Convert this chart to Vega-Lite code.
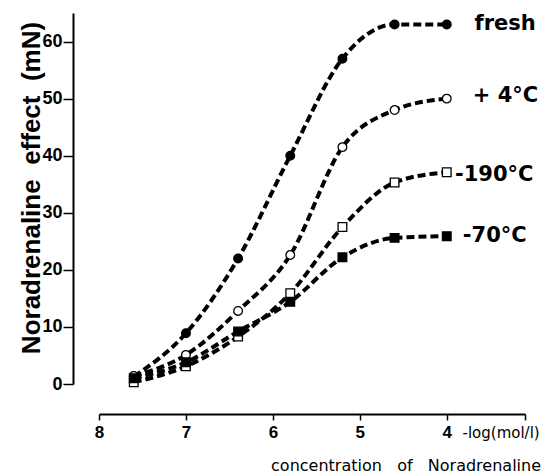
{
  "$schema": "https://vega.github.io/schema/vega-lite/v6.json",
  "width": 426,
  "height": 371,
  "autosize": {"type": "none"},
  "padding": {"left": 99, "top": 13, "right": 17, "bottom": 92},
  "background": "white",
  "config": {"view": {"stroke": null}, "font": "Liberation Sans"},
  "title": {
    "text": "concentration\u00a0\u00a0\u00a0of\u00a0\u00a0\u00a0Noradrenaline",
    "orient": "bottom",
    "anchor": "end",
    "frame": "group",
    "dx": 16,
    "offset": 18,
    "font": "DejaVu Sans",
    "fontSize": 16,
    "fontWeight": "normal",
    "color": "black"
  },
  "datasets": {
    "curves": [
      {"series": "fresh", "x": 7.6, "y": 1.3},
      {"series": "fresh", "x": 7.0, "y": 8.9},
      {"series": "fresh", "x": 6.4, "y": 22.0},
      {"series": "fresh", "x": 5.8, "y": 40.0},
      {"series": "fresh", "x": 5.2, "y": 57.0},
      {"series": "fresh", "x": 4.6, "y": 63.0},
      {"series": "fresh", "x": 4.0, "y": 63.0},
      {"series": "+4", "x": 7.6, "y": 1.4},
      {"series": "+4", "x": 7.0, "y": 5.1},
      {"series": "+4", "x": 6.4, "y": 12.8},
      {"series": "+4", "x": 5.8, "y": 22.6},
      {"series": "+4", "x": 5.2, "y": 41.5},
      {"series": "+4", "x": 4.6, "y": 48.0},
      {"series": "+4", "x": 4.0, "y": 50.0},
      {"series": "-190", "x": 7.6, "y": 0.3},
      {"series": "-190", "x": 7.0, "y": 3.1},
      {"series": "-190", "x": 6.4, "y": 8.3},
      {"series": "-190", "x": 5.8, "y": 15.9},
      {"series": "-190", "x": 5.2, "y": 27.5},
      {"series": "-190", "x": 4.6, "y": 35.3},
      {"series": "-190", "x": 4.0, "y": 37.1},
      {"series": "-70", "x": 7.6, "y": 1.0},
      {"series": "-70", "x": 7.0, "y": 3.8},
      {"series": "-70", "x": 6.4, "y": 9.2},
      {"series": "-70", "x": 5.8, "y": 14.4},
      {"series": "-70", "x": 5.2, "y": 22.2},
      {"series": "-70", "x": 4.6, "y": 25.6},
      {"series": "-70", "x": 4.0, "y": 25.9}
    ],
    "labels": [
      {"label": "fresh", "x": 3.68, "y": 63.0},
      {"label": "+ 4°C", "x": 3.70, "y": 50.4},
      {"label": "-190°C", "x": 3.905, "y": 36.6},
      {"label": "-70°C", "x": 3.815, "y": 25.9}
    ]
  },
  "layer": [
    {
      "data": {"name": "curves"},
      "mark": {"type": "line", "interpolate": "monotone", "strokeDash": [8, 4], "strokeWidth": 4, "color": "black"},
      "encoding": {
        "x": {
          "field": "x",
          "type": "quantitative",
          "scale": {"domain": [3.1, 8], "reverse": true, "nice": false, "zero": false},
          "axis": {
            "values": [8, 7, 6, 5, 4, 3.1],
            "labelExpr": "datum.value < 3.5 ? '' : format(datum.value, 'd')",
            "offset": 30,
            "grid": false,
            "tickSize": 6,
            "tickWidth": 1.5,
            "tickColor": "black",
            "domainColor": "black",
            "domainWidth": 2,
            "labelFont": "Liberation Sans",
            "labelFontSize": 17,
            "labelFontWeight": "bold",
            "labelColor": "black",
            "labelPadding": 4,
            "labelFlush": false,
            "labelOverlap": false,
            "title": "-log(mol/l)",
            "titleFont": "DejaVu Sans",
            "titleFontSize": 15,
            "titleFontWeight": "normal",
            "titleColor": "black",
            "titleX": 363,
            "titleY": 18,
            "titleAlign": "left",
            "titleBaseline": "middle"
          }
        },
        "y": {
          "field": "y",
          "type": "quantitative",
          "scale": {"domain": [0, 65], "nice": false, "zero": false},
          "axis": {
            "values": [0, 10, 20, 30, 40, 50, 60],
            "offset": 26,
            "grid": false,
            "tickSize": 10,
            "tickWidth": 1.5,
            "tickColor": "black",
            "domainColor": "black",
            "domainWidth": 2,
            "labelFont": "Liberation Sans",
            "labelFontSize": 18,
            "labelFontWeight": "bold",
            "labelColor": "black",
            "labelPadding": 1,
            "labelFlush": false,
            "labelOverlap": false,
            "title": "Noradrenaline\u00a0 effect\u00a0 (mN)",
            "titleFont": "Liberation Sans",
            "titleFontSize": 26,
            "titleFontWeight": "bold",
            "titleColor": "black",
            "titleX": -42,
            "titleY": 174.5,
            "titleAlign": "center",
            "titleBaseline": "middle"
          }
        },
        "detail": {"field": "series"}
      }
    },
    {
      "data": {"name": "curves"},
      "mark": {"type": "point", "filled": true, "stroke": "black", "strokeWidth": 1.3, "size": 75, "opacity": 1},
      "encoding": {
        "x": {"field": "x", "type": "quantitative"},
        "y": {"field": "y", "type": "quantitative"},
        "shape": {
          "field": "series",
          "scale": {"domain": ["fresh", "+4", "-190", "-70"], "range": ["circle", "circle", "square", "square"]},
          "legend": null
        },
        "fill": {
          "field": "series",
          "scale": {"domain": ["fresh", "+4", "-190", "-70"], "range": ["black", "white", "white", "black"]},
          "legend": null
        }
      }
    },
    {
      "data": {"name": "labels"},
      "mark": {"type": "text", "align": "left", "baseline": "middle", "font": "DejaVu Sans", "fontWeight": "bold", "fontSize": 21, "color": "black"},
      "encoding": {
        "x": {"field": "x", "type": "quantitative"},
        "y": {"field": "y", "type": "quantitative"},
        "text": {"field": "label"}
      }
    }
  ]
}
